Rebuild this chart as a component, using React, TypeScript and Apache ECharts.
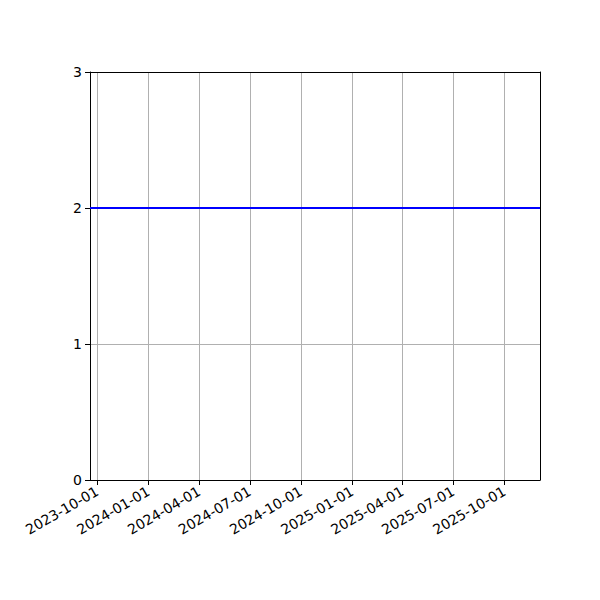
import * as echarts from 'echarts';
import { useEffect, useRef } from 'react';

const axisStart = '2023-09-18';
const axisEnd = '2025-12-04';
const tickDates = [
  '2023-10-01',
  '2024-01-01',
  '2024-04-01',
  '2024-07-01',
  '2024-10-01',
  '2025-01-01',
  '2025-04-01',
  '2025-07-01',
  '2025-10-01',
];
const lineDates = [axisStart, axisEnd];
const lineValues = [2, 2];
const yTicks = [0, 1, 2, 3];

const ts = (d: string) => Date.parse(d + 'T00:00:00Z');
const pad = (n: number) => String(n).padStart(2, '0');
const fmt = (v: number) => {
  const d = new Date(v);
  return `${d.getUTCFullYear()}-${pad(d.getUTCMonth() + 1)}-${pad(d.getUTCDate())}`;
};

function buildOption() {
  const font = 'DejaVu Sans';
  const tickValues = tickDates.map(ts);
  const spine = { show: true, onZero: false, lineStyle: { color: '#000', width: 1 } };
  const xMin = ts(axisStart);
  const xMax = ts(axisEnd);
  const yMin = yTicks[0];
  const yMax = yTicks[yTicks.length - 1];
  return {
    animation: false,
    grid: { left: 90, right: 60, top: 72, bottom: 120 },
    xAxis: [
      {
        type: 'value',
        min: xMin,
        max: xMax,
        axisLine: spine,
        axisTick: {
          show: true,
          length: 5,
          lineStyle: { color: '#000', width: 1 },
          customValues: tickValues,
        },
        axisLabel: {
          rotate: 30,
          color: '#000',
          fontFamily: font,
          fontSize: 14,
          margin: 10,
          customValues: tickValues,
          formatter: (v: number) => fmt(v),
        },
        splitLine: { show: true, lineStyle: { color: '#b0b0b0', width: 1 } },
      },
      {
        type: 'value',
        position: 'top',
        min: xMin,
        max: xMax,
        axisLine: spine,
        axisTick: { show: false },
        axisLabel: { show: false },
        splitLine: { show: false },
      },
    ],
    yAxis: [
      {
        type: 'value',
        min: yMin,
        max: yMax,
        interval: 1,
        axisLine: spine,
        axisTick: { show: true, length: 5, lineStyle: { color: '#000', width: 1 } },
        axisLabel: { color: '#000', fontFamily: font, fontSize: 14, margin: 8 },
        splitLine: { show: true, lineStyle: { color: '#b0b0b0', width: 1 } },
      },
      {
        type: 'value',
        position: 'right',
        min: yMin,
        max: yMax,
        interval: 1,
        axisLine: spine,
        axisTick: { show: false },
        axisLabel: { show: false },
        splitLine: { show: false },
      },
    ],
    series: [
      {
        type: 'line',
        xAxisIndex: 0,
        yAxisIndex: 0,
        showSymbol: false,
        color: '#0000ff',
        lineStyle: { color: '#0000ff', width: 2 },
        data: lineDates.map((d, i) => [ts(d), lineValues[i]]),
        z: 5,
      },
    ],
  };
}

export default function App() {
  const ref = useRef<HTMLDivElement | null>(null);

  useEffect(() => {
    if (!ref.current) return;
    const chart = echarts.init(ref.current, undefined, { renderer: 'svg' });
    chart.setOption(buildOption());
    return () => chart.dispose();
  }, []);

  return <div ref={ref} style={{ width: 600, height: 600, position: 'absolute', left: 0, top: 0, background: '#fff' }} />;
}
